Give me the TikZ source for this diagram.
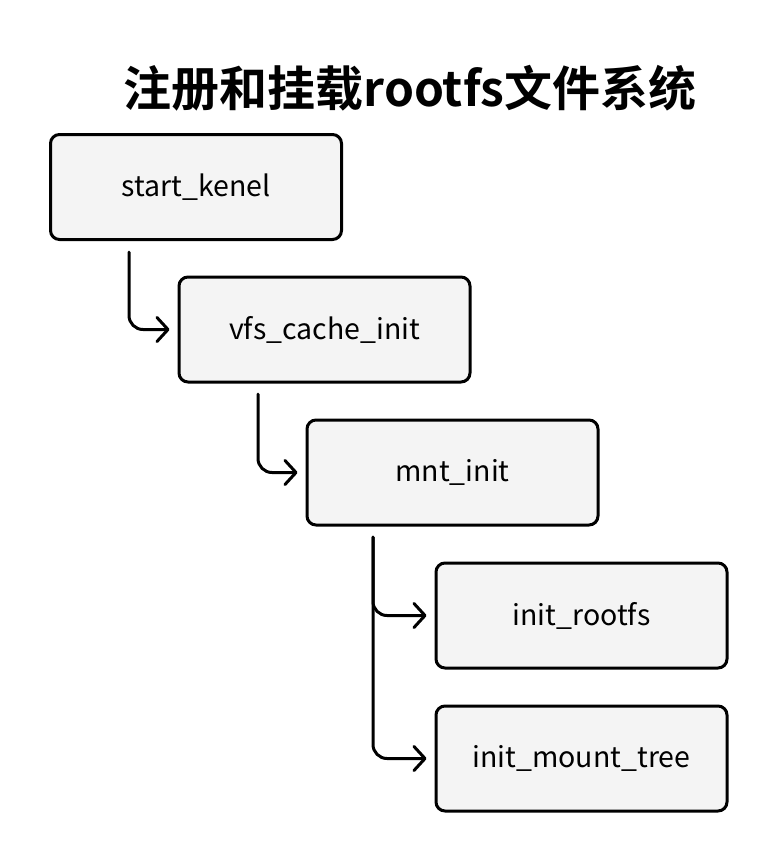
\documentclass[tikz,border=0pt]{standalone}
\usepackage{fontspec}
\setmainfont{Noto Sans CJK SC}
\newfontfamily\titlefont{Noto Sans CJK SC Bold}
\usetikzlibrary{arrows.meta}
\definecolor{boxfill}{HTML}{F4F4F4}
\tikzset{
  fnbox/.style={draw=black, line width=3pt, rounded corners=9pt, fill=boxfill,
    minimum width=291pt, minimum height=105pt, inner sep=0pt,
    font=\fontsize{28.5}{32}\selectfont},
  conn/.style={line width=3pt, rounded corners=14pt, line cap=round,
    -{Straight Barb[length=11pt,width=24pt,line cap=round,line join=round]}}
}
\begin{document}
\begin{tikzpicture}[x=1pt,y=-1pt]
\useasboundingbox (0,0) rectangle (780,862);
\node (title) at (410,88) {\titlefont\fontsize{48}{52}\selectfont 注册和挂载rootfs文件系统};
\node[fnbox] (sk) at (196,187) {\raisebox{-2pt}{start\_kenel}};
\node[fnbox] (vfs) at (324.5,329.5) {\raisebox{-2pt}{vfs\_cache\_init}};
\node[fnbox] (mnt) at (452.5,472.5) {\raisebox{-2pt}{mnt\_init}};
\node[fnbox] (root) at (581.5,615.5) {\raisebox{-2pt}{init\_rootfs}};
\node[fnbox] (tree) at (581.5,758.5) {\raisebox{-2pt}{init\_mount\_tree}};
\coordinate (a1) at (129,252);
\coordinate (a2) at (258,394);
\coordinate (a3) at (373,537);
\draw[conn] (a1) |- ([xshift=-8pt]vfs.west);
\draw[conn] (a2) |- ([xshift=-8pt]mnt.west);
\draw[conn] (a3) |- ([xshift=-8pt]root.west);
\draw[conn] (a3) |- ([xshift=-8pt]tree.west);
\end{tikzpicture}
\end{document}
